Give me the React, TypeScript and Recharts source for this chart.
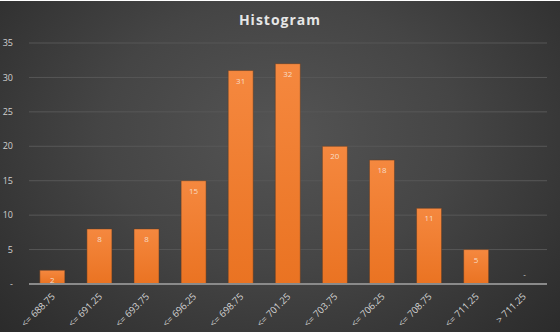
import React from 'react';
import { BarChart, Bar, XAxis, YAxis, CartesianGrid, LabelList } from 'recharts';

const bins = ['<= 688.75', '<= 691.25', '<= 693.75', '<= 696.25', '<= 698.75', '<= 701.25', '<= 703.75', '<= 706.25', '<= 708.75', '<= 711.25', '> 711.25'];
const counts = [2, 8, 8, 15, 31, 32, 20, 18, 11, 5, 0];
const yTicks = [0, 5, 10, 15, 20, 25, 30, 35];
const title = 'Histogram';

const data = bins.map((b, i) => ({ bin: b, count: counts[i] }));

const FONT = '"Open Sans", "Noto Sans", sans-serif';

const XTick = (props: any) => {
  const { x, y, payload } = props;
  const idx = payload.index ?? bins.indexOf(payload.value);
  const isZero = counts[idx] === 0;
  return (
    <g>
      {isZero && (
        <text x={x + 1} y={y - 15} textAnchor="middle" fill="#d8d8d8" fontSize={8} fontFamily={FONT}>-</text>
      )}
      <g transform={`translate(${x + 1},${y + 3})`}>
        <text x={0} y={0} dy={3} textAnchor="end" transform="rotate(-45)" fill="#d2d2d2" fontSize={9.5} fontFamily={FONT}>
          {payload.value}
        </text>
      </g>
    </g>
  );
};

const ValueLabel = (props: any) => {
  const { x, y, width, value } = props;
  if (!value) return null;
  const cx = x + width / 2;
  return (
    <text x={cx} y={y + 13} textAnchor="middle" fill="#f7dcc6" fontSize={8} fontFamily={FONT}>
      {value}
    </text>
  );
};

export default function App() {
  return (
    <div style={{ position: 'absolute', left: 0, top: 0, width: 560, height: 334, background: '#ffffff' }}>
      <div
        style={{
          position: 'absolute',
          left: 0,
          top: 1,
          width: 560,
          height: 331,
          background: 'radial-gradient(ellipse 70% 90% at 50% 40%, #545454 0%, #454545 45%, #313131 85%, #2a2a2a 100%)',
        }}
      >
        <div
          style={{
            position: 'absolute',
            left: 0,
            top: 9,
            width: 560,
            textAlign: 'center',
            color: '#e6e6e6',
            fontFamily: FONT,
            fontWeight: 700,
            fontSize: 14,
            letterSpacing: 1,
          }}
        >
          {title}
        </div>
        <BarChart
          width={560}
          height={331}
          data={data}
          margin={{ top: 42, right: 13, left: 0, bottom: 0 }}
          barCategoryGap="23%"
        >
          <defs>
            <linearGradient id="barGrad" x1="0" y1="0" x2="0" y2="1">
              <stop offset="0%" stopColor="#f5883f" />
              <stop offset="100%" stopColor="#ea7322" />
            </linearGradient>
          </defs>
          <CartesianGrid vertical={false} stroke="#575757" strokeWidth={1} />
          <YAxis
            width={29}
            domain={[0, 35]}
            ticks={yTicks}
            axisLine={false}
            tickLine={false}
            tickMargin={10}
            tick={{ fill: '#d0d0d0', fontSize: 9, fontFamily: FONT }}
            tickFormatter={(v: number) => (v === 0 ? '-' : String(v))}
          />
          <XAxis
            dataKey="bin"
            height={48}
            interval={0}
            tickLine={false}
            axisLine={{ stroke: '#8a8a8a', strokeWidth: 2 }}
            tick={<XTick />}
          />
          <Bar dataKey="count" fill="url(#barGrad)" stroke="#5a3a25" strokeWidth={0.5} isAnimationActive={false}>
            <LabelList dataKey="count" content={<ValueLabel />} />
          </Bar>
        </BarChart>
      </div>
    </div>
  );
}
